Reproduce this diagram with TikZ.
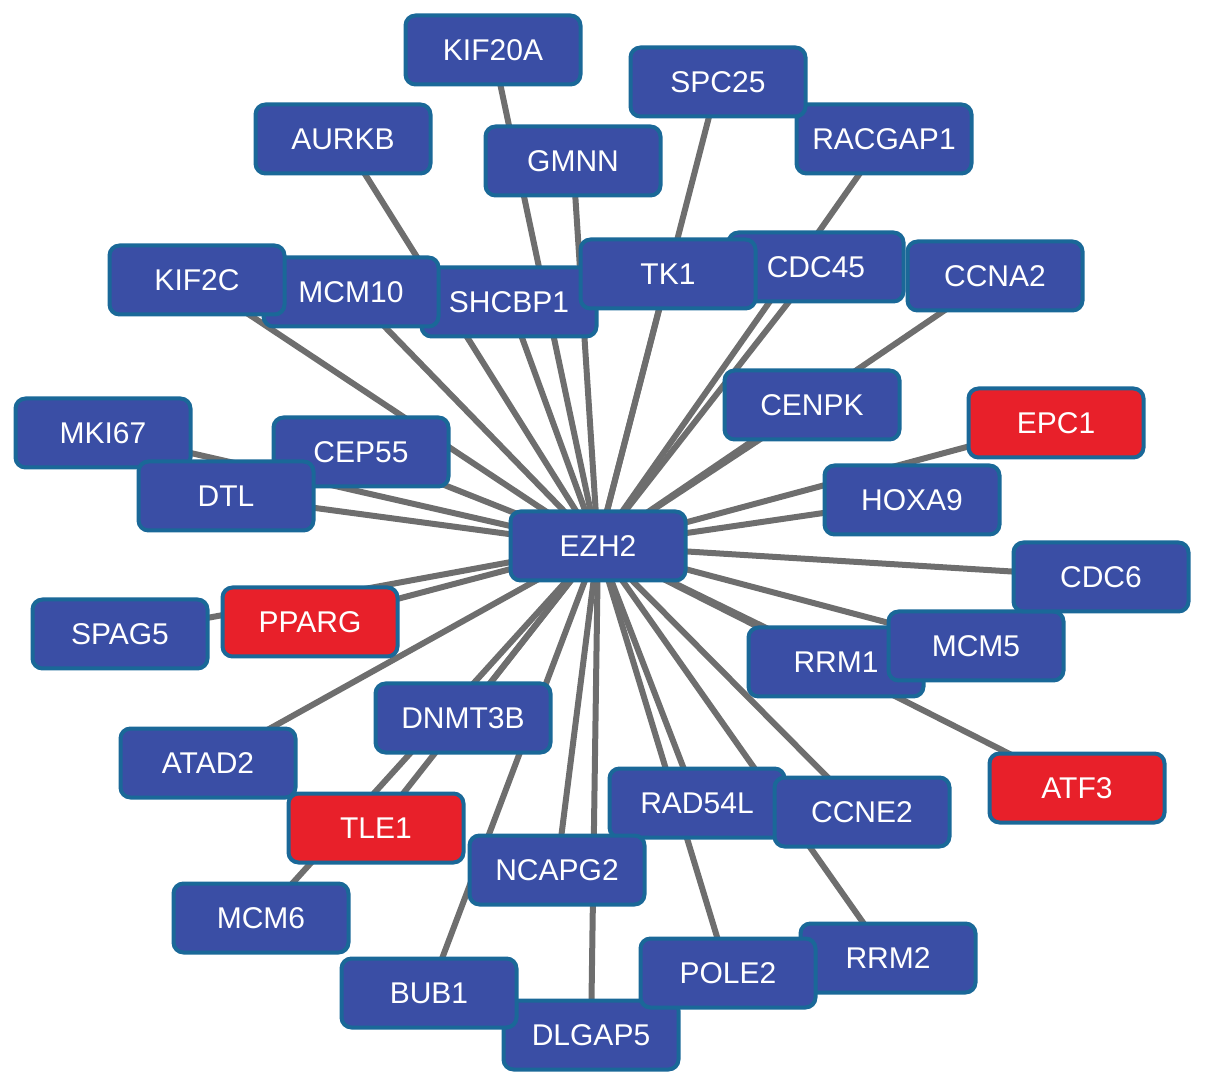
\documentclass[tikz,border=0pt]{standalone}
\usepackage{fontspec}
\setmainfont{Liberation Sans}
\pgfdeclarelayer{background}
\pgfsetlayers{background,main}
\definecolor{boxblue}{HTML}{3A4EA5}
\definecolor{boxborder}{HTML}{1A6898}
\definecolor{boxred}{HTML}{E8202A}
\definecolor{edgegray}{HTML}{6E6E6E}
\begin{document}
\begin{tikzpicture}[x=0.5pt,y=-0.5pt,
  gene/.style={rectangle, rounded corners=5pt, draw=boxborder, line width=2pt,
    fill=boxblue, text=white, minimum width=87.5pt, minimum height=34.5pt,
    inner sep=0pt, font=\fontsize{15pt}{18pt}\selectfont},
  redgene/.style={gene, fill=boxred},
  link/.style={draw=edgegray, line width=3pt}]
\useasboundingbox (0,0) rectangle (1205,1090);
% nodes (later ones on top)
\node[gene] (KIF20A) at (493,50) {KIF20A};
\node[gene] (RACGAP1) at (884,139) {RACGAP1};
\node[gene] (SPC25) at (718,82) {SPC25};
\node[gene] (AURKB) at (343,139) {AURKB};
\node[gene] (GMNN) at (573,161) {GMNN};
\node[gene] (SHCBP1) at (509,302) {SHCBP1};
\node[gene] (MCM10) at (351,292) {MCM10};
\node[gene] (KIF2C) at (197,280) {KIF2C};
\node[gene] (CDC45) at (816,267) {CDC45};
\node[gene] (TK1) at (668,274) {TK1};
\node[gene] (CCNA2) at (995,276) {CCNA2};
\node[gene] (CENPK) at (812,405) {CENPK};
\node[redgene] (EPC1) at (1056,423) {EPC1};
\node[gene] (MKI67) at (103,433) {MKI67};
\node[gene] (CEP55) at (361,452) {CEP55};
\node[gene] (DTL) at (226,496) {DTL};
\node[gene] (HOXA9) at (912,500) {HOXA9};
\node[gene] (EZH2) at (598,546) {EZH2};
\node[gene] (SPAG5) at (120,634) {SPAG5};
\node[redgene] (PPARG) at (310,622) {PPARG};
\node[gene] (RRM1) at (836,662) {RRM1};
\node[gene] (MCM5) at (976,646) {MCM5};
\node[gene] (CDC6) at (1101,577) {CDC6};
\node[gene] (DNMT3B) at (463,718) {DNMT3B};
\node[gene] (ATAD2) at (208,763) {ATAD2};
\node[redgene] (ATF3) at (1077,788) {ATF3};
\node[gene] (RAD54L) at (697,803) {RAD54L};
\node[gene] (CCNE2) at (862,812) {CCNE2};
\node[redgene] (TLE1) at (376,828) {TLE1};
\node[gene] (NCAPG2) at (557,870) {NCAPG2};
\node[gene] (MCM6) at (261,918) {MCM6};
\node[gene] (DLGAP5) at (591,1035) {DLGAP5};
\node[gene] (BUB1) at (429,993) {BUB1};
\node[gene] (RRM2) at (888,958) {RRM2};
\node[gene] (POLE2) at (728,973) {POLE2};
% edges
\begin{pgfonlayer}{background}
\foreach \g in {KIF20A,RACGAP1,SPC25,AURKB,GMNN,SHCBP1,MCM10,KIF2C,CDC45,TK1,
  CCNA2,CENPK,EPC1,MKI67,CEP55,DTL,HOXA9,MCM5,CDC6,SPAG5,PPARG,RRM1,DNMT3B,
  ATAD2,ATF3,RAD54L,CCNE2,TLE1,NCAPG2,MCM6,DLGAP5,BUB1,RRM2,POLE2}
  \draw[link] (EZH2.center) -- (\g.center);
\end{pgfonlayer}
\end{tikzpicture}
\end{document}
